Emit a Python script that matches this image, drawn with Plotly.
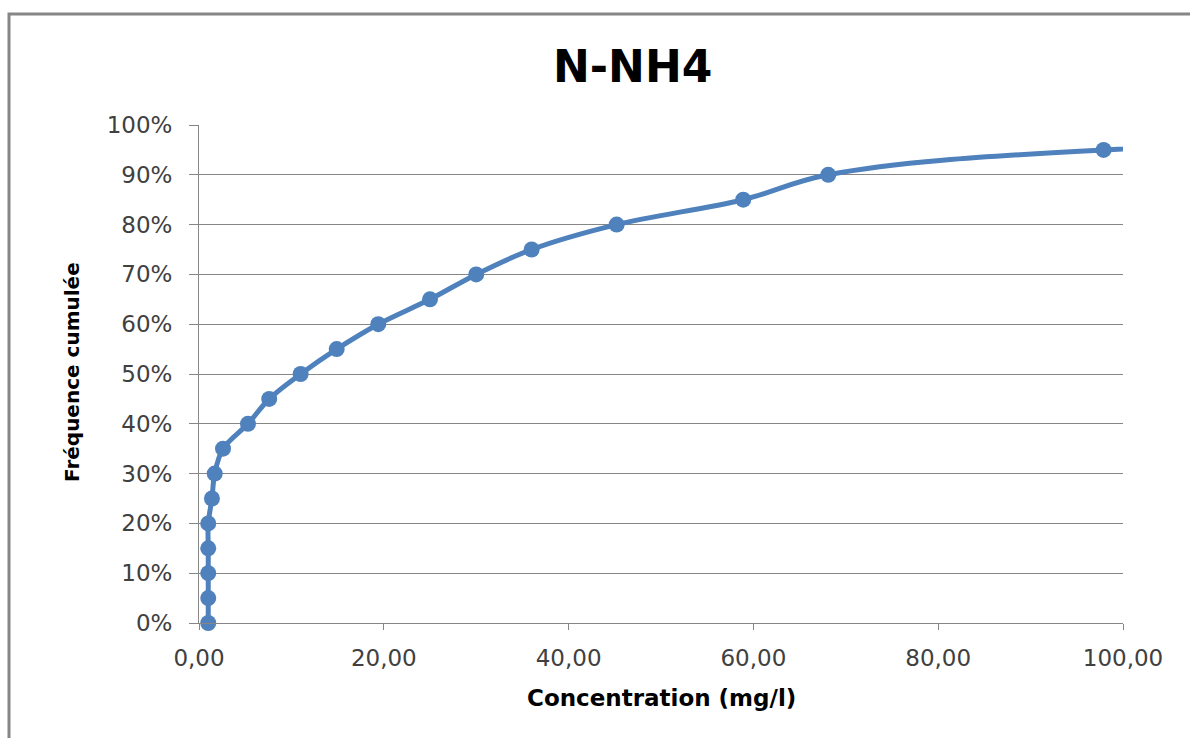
import plotly.graph_objects as go

# data
concentration = [1.0, 1.0, 1.0, 1.0, 1.0, 1.4, 1.7, 2.6, 5.3, 7.6, 11.0, 14.9, 19.4, 25.0, 30.0, 36.0, 45.2, 58.9, 68.1, 97.9, 250.0]
frequence = [0.00, 0.05, 0.10, 0.15, 0.20, 0.25, 0.30, 0.35, 0.40, 0.45, 0.50, 0.55, 0.60, 0.65, 0.70, 0.75, 0.80, 0.85, 0.90, 0.95, 1.00]
x_ticks = [0, 20, 40, 60, 80, 100]
y_ticks = [0, 0.1, 0.2, 0.3, 0.4, 0.5, 0.6, 0.7, 0.8, 0.9, 1.0]

BLUE = "#4F81BD"
GRAY = "#868686"
FONT = "DejaVu Sans"

vis_x = [c for c in concentration if c <= 100]
vis_y = [f for c, f in zip(concentration, frequence) if c <= 100]

fig = go.Figure()
fig.add_trace(go.Scatter(x=concentration, y=frequence, mode="lines",
                         line=dict(color=BLUE, width=5, shape="spline", smoothing=1),
                         cliponaxis=True, hoverinfo="skip", showlegend=False))
fig.add_trace(go.Scatter(x=vis_x, y=vis_y, mode="markers",
                         marker=dict(color=BLUE, size=16),
                         cliponaxis=False, showlegend=False))

W, H = 1190, 738
L, R, T, B = 199, 1123, 125, 623

fig.update_layout(
    width=W, height=H,
    margin=dict(l=L, r=W - R, t=T, b=H - B),
    paper_bgcolor="white", plot_bgcolor="white",
    separators=", ",
    font=dict(family=FONT, color="#404040"),
    xaxis=dict(range=[0, 100], tickvals=x_ticks, tickformat=".2f",
               showgrid=False, zeroline=False, showline=True, linecolor=GRAY, linewidth=1,
               ticks="outside", ticklen=6, tickcolor=GRAY, ticklabelstandoff=8,
               tickfont=dict(family=FONT, size=23, color="#404040")),
    yaxis=dict(range=[0, 1], tickvals=y_ticks, tickformat=".0%",
               showgrid=True, gridcolor=GRAY, gridwidth=1, zeroline=False,
               showline=True, linecolor=GRAY, linewidth=1,
               ticks="outside", ticklen=9, tickcolor=GRAY, ticklabelstandoff=12,
               tickfont=dict(family=FONT, size=23, color="#404040")),
    shapes=[dict(type="rect", xref="paper", yref="paper",
                 x0=(9 - L) / (R - L), x1=1.6,
                 y0=-0.6, y1=(B - 14) / (B - T),
                 line=dict(color=GRAY, width=3), layer="below")],
    annotations=[
        dict(text="<b>N-NH4</b>", xref="paper", yref="paper",
             x=(632 - L) / (R - L), y=(B - 66) / (B - T), xanchor="center", yanchor="middle",
             showarrow=False, font=dict(family=FONT, size=44, color="black")),
        dict(text="<b>Concentration (mg/l)</b>", xref="paper", yref="paper",
             x=(661 - L) / (R - L), y=(B - 698) / (B - T), xanchor="center", yanchor="middle",
             showarrow=False, font=dict(family=FONT, size=23, color="black")),
        dict(text="<b>Fréquence cumulée</b>", xref="paper", yref="paper", textangle=-90,
             x=(72 - L) / (R - L), y=(B - 372) / (B - T), xanchor="center", yanchor="middle",
             showarrow=False, font=dict(family=FONT, size=20, color="black")),
    ],
)

fig.write_html("out.html")
